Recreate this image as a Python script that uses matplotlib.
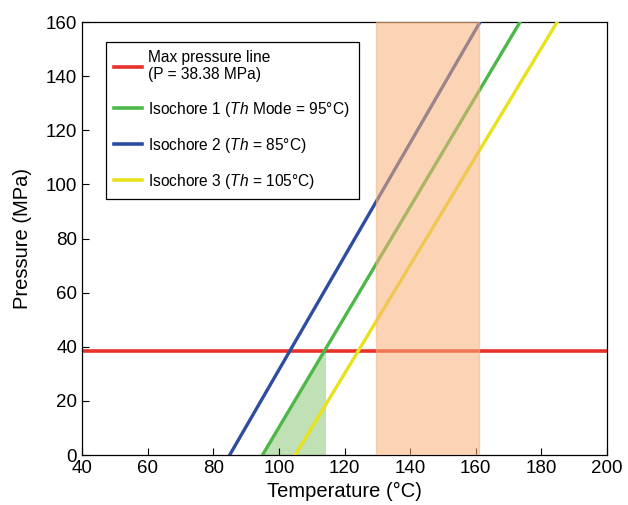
import matplotlib
matplotlib.use("Agg")
import matplotlib.pyplot as plt
from matplotlib.lines import Line2D

plt.rcParams["font.family"] = ["Liberation Sans", "DejaVu Sans"]
plt.rcParams["mathtext.fontset"] = "custom"
plt.rcParams["mathtext.it"] = "Liberation Sans:italic"
plt.rcParams["mathtext.rm"] = "Liberation Sans"

# data
max_pressure = 38.38
iso_names = ["Isochore 1", "Isochore 2", "Isochore 3"]
iso_temp_at_0 = [95, 85, 105]          # Th (°C) where P = 0
iso_temp_at_160 = [173.5, 161.3, 184.8]  # T (°C) where P = 160 MPa
iso_colors = ["#4db848", "#2e4da0", "#e8e21c"]
window_lo, window_hi = 129.5, 161.0
fill_right = 114.2

fig = plt.figure(figsize=(6.28, 5.05), dpi=100)
ax = fig.add_axes([0.1306, 0.099, 0.836, 0.8574])

ax.axhline(max_pressure, color="#e8312a", lw=2.6, zorder=2)
for t0, t1, c in zip(iso_temp_at_0, iso_temp_at_160, iso_colors):
    ax.plot([t0, t1], [0, 160], color=c, lw=2.4, zorder=3)

# green triangle under isochore 1 up to the max pressure line
g0, g1 = iso_temp_at_0[0], iso_temp_at_160[0]
slope = 160 / (g1 - g0)
ax.fill_between([g0, fill_right], [0, 0], [0, (fill_right - g0) * slope],
                color="#b5dba8", alpha=0.85, lw=0, zorder=1)

ax.axvspan(window_lo, window_hi, color="#f8b27a", alpha=0.55, lw=1, zorder=4)

ax.set_xlim(40, 200)
ax.set_ylim(0, 160)
ax.set_xticks(range(40, 201, 20))
ax.set_yticks(range(0, 161, 20))
ax.tick_params(direction="in", length=5, labelsize=13.5, width=0.8)
for s in ax.spines.values():
    s.set_linewidth(0.9)
ax.set_xlabel("Temperature (°C)", fontsize=14.5, labelpad=4)
ax.set_ylabel("Pressure (MPa)", fontsize=14.5, labelpad=10)

handles = [Line2D([], [], color="#e8312a", lw=2.6)]
labels = ["Max pressure line\n(P = 38.38 MPa)",
          "Isochore 1 ($\\it{Th}$ Mode = 95°C)",
          "Isochore 2 ($\\it{Th}$ = 85°C)",
          "Isochore 3 ($\\it{Th}$ = 105°C)"]
for c in iso_colors:
    handles.append(Line2D([], [], color=c, lw=2.6))
leg = ax.legend(handles, labels, loc="upper left", bbox_to_anchor=(0.045, 0.955),
                fontsize=11.2, frameon=True, fancybox=False, edgecolor="black",
                framealpha=1, handlelength=1.8, labelspacing=1.1,
                borderpad=0.55, handletextpad=0.4, borderaxespad=0)
leg.get_frame().set_linewidth(0.9)
leg.set_zorder(5)

fig.savefig("out.png", dpi=100)
